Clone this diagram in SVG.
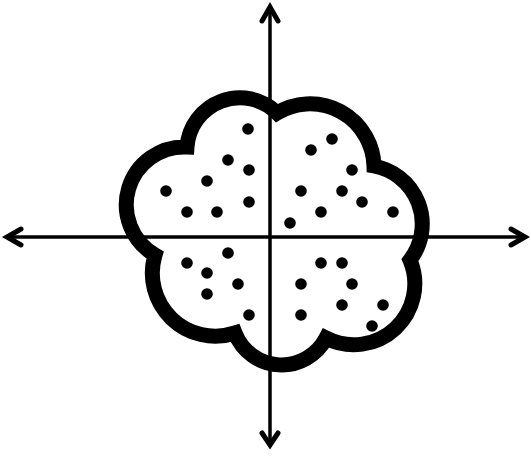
<svg xmlns="http://www.w3.org/2000/svg" width="531" height="456" viewBox="0 0 531 456">
<style>
.cloud{fill:#fff;stroke:#000;stroke-width:15;stroke-linejoin:miter;stroke-miterlimit:3}
.axis{stroke:#000;stroke-width:3.5;fill:none}
.head{stroke:#000;stroke-width:5;fill:none;stroke-linejoin:miter;stroke-linecap:round}
.dot{fill:#000}
</style>
<rect width="531" height="456" fill="#fff"/>
<g id="cloud">
<path class="cloud" d="M187,147 A53,53 0 0 1 277,113 A64,64 0 0 1 374,166 A59,59 0 0 1 410,260 A61,61 0 0 1 326,338 A50,50 0 0 1 235,333 A63,63 0 0 1 155,255 A58,58 0 0 1 187,147 Z"/>
</g>
<g id="dots">
<circle class="dot" cx="248" cy="129" r="5.8"/>
<circle class="dot" cx="228" cy="160" r="5.8"/>
<circle class="dot" cx="249" cy="170" r="5.8"/>
<circle class="dot" cx="207" cy="181" r="5.8"/>
<circle class="dot" cx="166" cy="191" r="5.8"/>
<circle class="dot" cx="249" cy="202" r="5.8"/>
<circle class="dot" cx="187" cy="212" r="5.8"/>
<circle class="dot" cx="217" cy="212" r="5.8"/>
<circle class="dot" cx="332" cy="139" r="5.8"/>
<circle class="dot" cx="311" cy="150" r="5.8"/>
<circle class="dot" cx="352" cy="170" r="5.8"/>
<circle class="dot" cx="301" cy="191" r="5.8"/>
<circle class="dot" cx="342" cy="191" r="5.8"/>
<circle class="dot" cx="362" cy="202" r="5.8"/>
<circle class="dot" cx="321" cy="212" r="5.8"/>
<circle class="dot" cx="393" cy="212" r="5.8"/>
<circle class="dot" cx="290" cy="223" r="5.8"/>
<circle class="dot" cx="228" cy="253" r="5.8"/>
<circle class="dot" cx="187" cy="263" r="5.8"/>
<circle class="dot" cx="207" cy="273" r="5.8"/>
<circle class="dot" cx="238" cy="284" r="5.8"/>
<circle class="dot" cx="207" cy="294" r="5.8"/>
<circle class="dot" cx="249" cy="315" r="5.8"/>
<circle class="dot" cx="321" cy="263" r="5.8"/>
<circle class="dot" cx="342" cy="263" r="5.8"/>
<circle class="dot" cx="301" cy="284" r="5.8"/>
<circle class="dot" cx="352" cy="284" r="5.8"/>
<circle class="dot" cx="342" cy="305" r="5.8"/>
<circle class="dot" cx="383" cy="305" r="5.8"/>
<circle class="dot" cx="301" cy="315" r="5.8"/>
<circle class="dot" cx="372" cy="326" r="5.8"/>
</g>
<g id="axes">
<line class="axis" x1="270" y1="7" x2="270" y2="445"/>
<line class="axis" x1="7" y1="237" x2="525" y2="237"/>
<path class="head" d="M262,21 L270,7 L278,21"/>
<path class="head" d="M262,433 L270,445 L278,433"/>
<path class="head" d="M21,229 L7,237 L21,245"/>
<path class="head" d="M511,229 L525,237 L511,245"/>
</g>
</svg>
